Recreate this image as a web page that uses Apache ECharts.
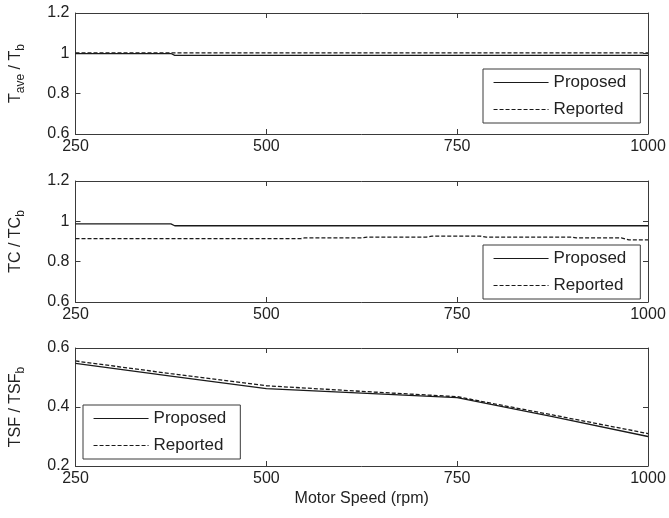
<!DOCTYPE html>
<html>
<head>
<meta charset="utf-8">
<script src="https://cdn.jsdelivr.net/npm/echarts@6/dist/echarts.min.js"></script>
<style>
  html, body { margin: 0; padding: 0; background: #ffffff; }
  #chart { width: 669px; height: 518px; }
</style>
</head>
<body>
<div id="chart"></div>
<script>
// Motor speed axis (rpm)
const speedMin = 250;
const speedMax = 1000;
const speedStep = 250;

// Average torque ratio T_ave / T_b
const taveSpeedProposed = [250, 375, 380, 1000];
const taveProposed      = [0.999, 0.999, 0.990, 0.990];
const taveSpeedReported = [250, 1000];
const taveReported      = [1.002, 1.002];

// Torque constant ratio TC / TC_b
const tcSpeedProposed = [250, 375, 380, 1000];
const tcProposed      = [0.987, 0.987, 0.978, 0.978];
const tcSpeedReported = [250, 545, 550, 625, 632, 710, 717, 780, 788, 900, 906, 965, 975, 1000];
const tcReported      = [0.914, 0.914, 0.918, 0.918, 0.922, 0.922, 0.927, 0.927, 0.922, 0.922, 0.918, 0.918, 0.908, 0.908];

// Torque speed factor ratio TSF / TSF_b
const tsfSpeed    = [250, 375, 500, 625, 750, 875, 1000];
const tsfProposed = [0.548, 0.505, 0.462, 0.447, 0.432, 0.367, 0.300];
const tsfReported = [0.556, 0.513, 0.472, 0.453, 0.435, 0.373, 0.310];

// Panel y ranges
const ratioRangeTop = [0.6, 1.2];
const ratioRangeBottom = [0.2, 0.6];
const ratioStep = 0.2;

const FONT = "'Liberation Sans', Arial, Helvetica, sans-serif";
const INK = '#222222';
const AXIS = '#3a3a3a';

const pairs = (xs, ys) => xs.map((x, i) => [x, ys[i]]);

const panels = [
  {
    top: 13, height: 121, range: ratioRangeTop,
    name: '{m|T}{s|ave}{m| / T}{s|b}',
    proposed: pairs(taveSpeedProposed, taveProposed),
    reported: pairs(taveSpeedReported, taveReported),
    legend: { left: 483, top: 69 }
  },
  {
    top: 181, height: 121, range: ratioRangeTop,
    name: '{m|TC / TC}{s|b}',
    proposed: pairs(tcSpeedProposed, tcProposed),
    reported: pairs(tcSpeedReported, tcReported),
    legend: { left: 483, top: 245 }
  },
  {
    top: 348, height: 118, range: ratioRangeBottom,
    name: '{m|TSF / TSF}{s|b}',
    proposed: pairs(tsfSpeed, tsfProposed),
    reported: pairs(tsfSpeed, tsfReported),
    legend: { left: 83, top: 405 },
    xName: 'Motor Speed (rpm)'
  }
];

const grid = [], xAxis = [], yAxis = [], series = [], legend = [];

const tickStyle = { show: true, inside: true, length: 5, lineStyle: { color: AXIS, width: 1 } };
const lineStyleAxis = { show: true, lineStyle: { color: AXIS, width: 1 } };
const labelStyle = { color: INK, fontSize: 16, fontFamily: FONT, formatter: v => String(v) };

panels.forEach((p, i) => {
  grid.push({ left: 75, width: 573, top: p.top, height: p.height, containLabel: false });

  // bottom axis with labels
  xAxis.push({
    type: 'value', gridIndex: i, position: 'bottom',
    min: speedMin, max: speedMax, interval: speedStep,
    axisLine: lineStyleAxis, axisTick: tickStyle, splitLine: { show: false },
    axisLabel: Object.assign({ margin: 5 }, labelStyle),
    name: p.xName || '', nameLocation: 'middle', nameGap: 25,
    nameTextStyle: { color: INK, fontSize: 16, fontFamily: FONT }
  });
  // top frame edge
  xAxis.push({
    type: 'value', gridIndex: i, position: 'top',
    min: speedMin, max: speedMax, interval: speedStep,
    axisLine: lineStyleAxis, axisTick: tickStyle, splitLine: { show: false },
    axisLabel: { show: false }
  });
  // left axis with labels
  yAxis.push({
    type: 'value', gridIndex: i, position: 'left',
    min: p.range[0], max: p.range[1], interval: ratioStep,
    axisLine: lineStyleAxis, axisTick: tickStyle, splitLine: { show: false },
    axisLabel: Object.assign({ margin: 6 }, labelStyle),
    name: p.name, nameLocation: 'middle', nameRotate: 90, nameGap: 49,
    nameTextStyle: {
      rich: {
        m: { fontSize: 16, fontFamily: FONT, color: INK },
        s: { fontSize: 12, fontFamily: FONT, color: INK, padding: [9, 0, 0, 0] }
      }
    }
  });
  // right frame edge
  yAxis.push({
    type: 'value', gridIndex: i, position: 'right',
    min: p.range[0], max: p.range[1], interval: ratioStep,
    axisLine: lineStyleAxis, axisTick: tickStyle, splitLine: { show: false },
    axisLabel: { show: false }
  });

  series.push({
    name: 'Proposed', type: 'line', xAxisIndex: 2 * i, yAxisIndex: 2 * i,
    data: p.proposed, symbol: 'none', silent: true,
    lineStyle: { color: '#1a1a1a', width: 1.3, type: 'solid' },
    itemStyle: { color: '#1a1a1a' }
  });
  series.push({
    name: 'Reported', type: 'line', xAxisIndex: 2 * i, yAxisIndex: 2 * i,
    data: p.reported, symbol: 'none', silent: true,
    lineStyle: { color: '#1a1a1a', width: 1.3, type: [4, 2] },
    itemStyle: { color: '#1a1a1a' }
  });

  legend.push({
    orient: 'vertical', left: p.legend.left, top: p.legend.top,
    data: ['Proposed', 'Reported'],
    itemWidth: 55, itemHeight: 14, itemGap: 10,
    padding: [5, 14, 5, 10],
    borderColor: AXIS, borderWidth: 1, backgroundColor: '#ffffff',
    selectedMode: false,
    itemStyle: { opacity: 0 },
    lineStyle: { width: 1.1 },
    textStyle: { color: INK, fontSize: 17, fontFamily: FONT }
  });
});

const chart = echarts.init(document.getElementById('chart'), null, { renderer: 'canvas' });
chart.setOption({
  animation: false,
  backgroundColor: '#ffffff',
  grid, xAxis, yAxis, series, legend
});
</script>
</body>
</html>
